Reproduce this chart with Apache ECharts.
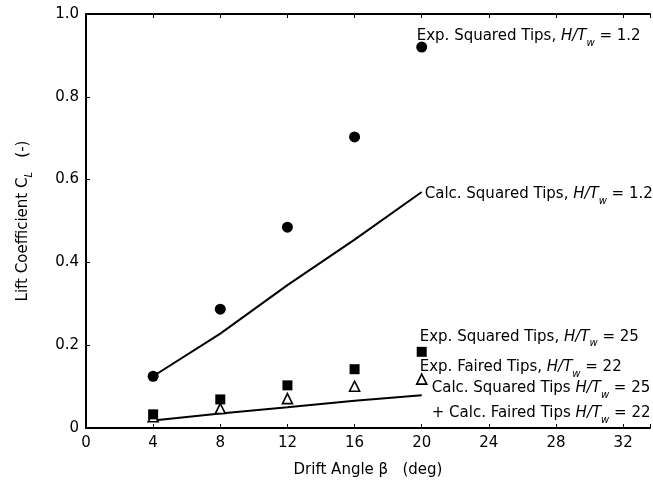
<!DOCTYPE html>
<html>
<head>
<meta charset="utf-8">
<script src="https://cdn.jsdelivr.net/npm/echarts@6/dist/echarts.min.js"></script>
<style>
  html, body { margin: 0; padding: 0; background: #fff; }
  #main { width: 653px; height: 491px; }
</style>
</head>
<body>
<div id="main"></div>
<script>
// drift angles (deg)
var angles = [4, 8, 12, 16, 20];

// measured / calculated lift coefficients
var expSquared12 = [0.125, 0.287, 0.485, 0.703, 0.92];
var calcSquared12 = [0.125, 0.228, 0.345, 0.455, 0.57];
var expSquared25 = [0.033, 0.069, 0.103, 0.142, 0.184];
var expFaired22 = [0.027, 0.047, 0.071, 0.101, 0.118];
var calcLow = [0.018, 0.035, 0.05, 0.066, 0.079];

var xTicks = [0, 4, 8, 12, 16, 20, 24, 28, 32];
var yTicks = [0, 0.2, 0.4, 0.6, 0.8, 1.0];

function pairs(ys) {
  return angles.map(function (x, i) { return [x, ys[i]]; });
}

var font = 'DejaVu Sans, sans-serif';
var fs = 15;
function makeRich(lh) {
  return {
    n: { fontFamily: font, fontSize: fs, color: '#000', lineHeight: lh, verticalAlign: 'middle' },
    i: { fontFamily: font, fontSize: fs, color: '#000', fontStyle: 'italic', lineHeight: lh, verticalAlign: 'middle' },
    s: { fontFamily: font, fontSize: 10, color: '#000', fontStyle: 'italic', lineHeight: lh, verticalAlign: 'bottom' }
  };
}

function lastLabel(ys, text, offset) {
  var d = pairs(ys);
  d[d.length - 1] = {
    value: d[d.length - 1],
    label: {
      show: true,
      position: 'inside',
      align: 'left',
      verticalAlign: 'middle',
      offset: offset,
      formatter: text,
      rich: makeRich(24)
    }
  };
  return d;
}

var myChart = echarts.init(document.getElementById('main'));

var axisLine = { show: true, lineStyle: { color: '#000', width: 2 } };
var axisTick = { show: true, inside: true, length: 4, lineStyle: { color: '#000', width: 1 } };

var option = {
  backgroundColor: '#fff',
  animation: false,
  grid: { left: 86, top: 14, right: 0, bottom: 63, containLabel: false },
  xAxis: [
    {
      type: 'value',
      min: 0,
      max: 33.6,
      interval: 4,
      position: 'bottom',
      axisLine: axisLine,
      axisTick: axisTick,
      splitLine: { show: false },
      axisLabel: {
        color: '#000', fontFamily: font, fontSize: fs, margin: 8,
        formatter: function (v) { return xTicks.indexOf(v) >= 0 ? String(v) : ''; }
      },
      name: 'Drift Angle \u03b2   (deg)',
      nameLocation: 'middle',
      nameGap: 35,
      nameTextStyle: { color: '#000', fontFamily: font, fontSize: fs }
    },
    {
      type: 'value',
      min: 0,
      max: 33.6,
      interval: 4,
      position: 'top',
      axisLine: axisLine,
      axisTick: axisTick,
      axisLabel: { show: false },
      splitLine: { show: false }
    }
  ],
  yAxis: {
    type: 'value',
    min: 0,
    max: 1,
    interval: 0.2,
    axisLine: axisLine,
    axisTick: axisTick,
    splitLine: { show: false },
    axisLabel: {
      color: '#000', fontFamily: font, fontSize: fs, margin: 7,
      formatter: function (v) {
        var t = yTicks.filter(function (y) { return Math.abs(y - v) < 1e-9; });
        if (!t.length) return '';
        return v === 0 ? '0' : v.toFixed(1);
      }
    },
    name: '{n|Lift Coefficient C}{s|L}{n|   (-)}',
    nameLocation: 'middle',
    nameGap: 52,
    nameTextStyle: {
      rich: {
        n: { fontFamily: font, fontSize: fs, color: '#000', lineHeight: 22, verticalAlign: 'middle' },
        s: { fontFamily: font, fontSize: 10, color: '#000', fontStyle: 'italic', lineHeight: 22, verticalAlign: 'bottom' }
      }
    }
  },
  series: [
    {
      name: 'Calc. Squared Tips, H/Tw = 1.2',
      type: 'line',
      data: pairs(calcSquared12),
      symbol: 'none',
      lineStyle: { color: '#000', width: 2 },
      endLabel: {
        show: true,
        distance: 3,
        offset: [0, 2],
        formatter: '{n|Calc. Squared Tips, }{i|H/T}{s|w}{n| = 1.2}',
        rich: makeRich(24)
      },
      z: 2
    },
    {
      name: 'Calc. low',
      type: 'line',
      data: pairs(calcLow),
      symbol: 'none',
      lineStyle: { color: '#000', width: 2 },
      endLabel: {
        show: true,
        distance: 10,
        offset: [0, 5],
        formatter: '{n|Calc. Squared Tips }{i|H/T}{s|w}{n| = 25}\n{n|+ Calc. Faired Tips }{i|H/T}{s|w}{n| = 22}',
        rich: makeRich(25)
      },
      z: 2
    },
    {
      name: 'Exp. Faired Tips, H/Tw = 22',
      type: 'scatter',
      data: lastLabel(expFaired22, '{n|Exp. Faired Tips, }{i|H/T}{s|w}{n| = 22}', [-2, -12]),
      symbol: 'triangle',
      symbolSize: 10,
      itemStyle: { color: '#fff', borderColor: '#000', borderWidth: 1.6, opacity: 1 },
      z: 3
    },
    {
      name: 'Exp. Squared Tips, H/Tw = 25',
      type: 'scatter',
      data: lastLabel(expSquared25, '{n|Exp. Squared Tips, }{i|H/T}{s|w}{n| = 25}', [-2, -15]),
      symbol: 'rect',
      symbolSize: 10,
      itemStyle: { color: '#000', opacity: 1 },
      z: 4
    },
    {
      name: 'Exp. Squared Tips, H/Tw = 1.2',
      type: 'scatter',
      data: lastLabel(expSquared12, '{n|Exp. Squared Tips, }{i|H/T}{s|w}{n| = 1.2}', [-5, -11]),
      symbol: 'circle',
      symbolSize: 11,
      itemStyle: { color: '#000', opacity: 1 },
      z: 4
    }
  ]
};

myChart.setOption(option);
</script>
</body>
</html>
